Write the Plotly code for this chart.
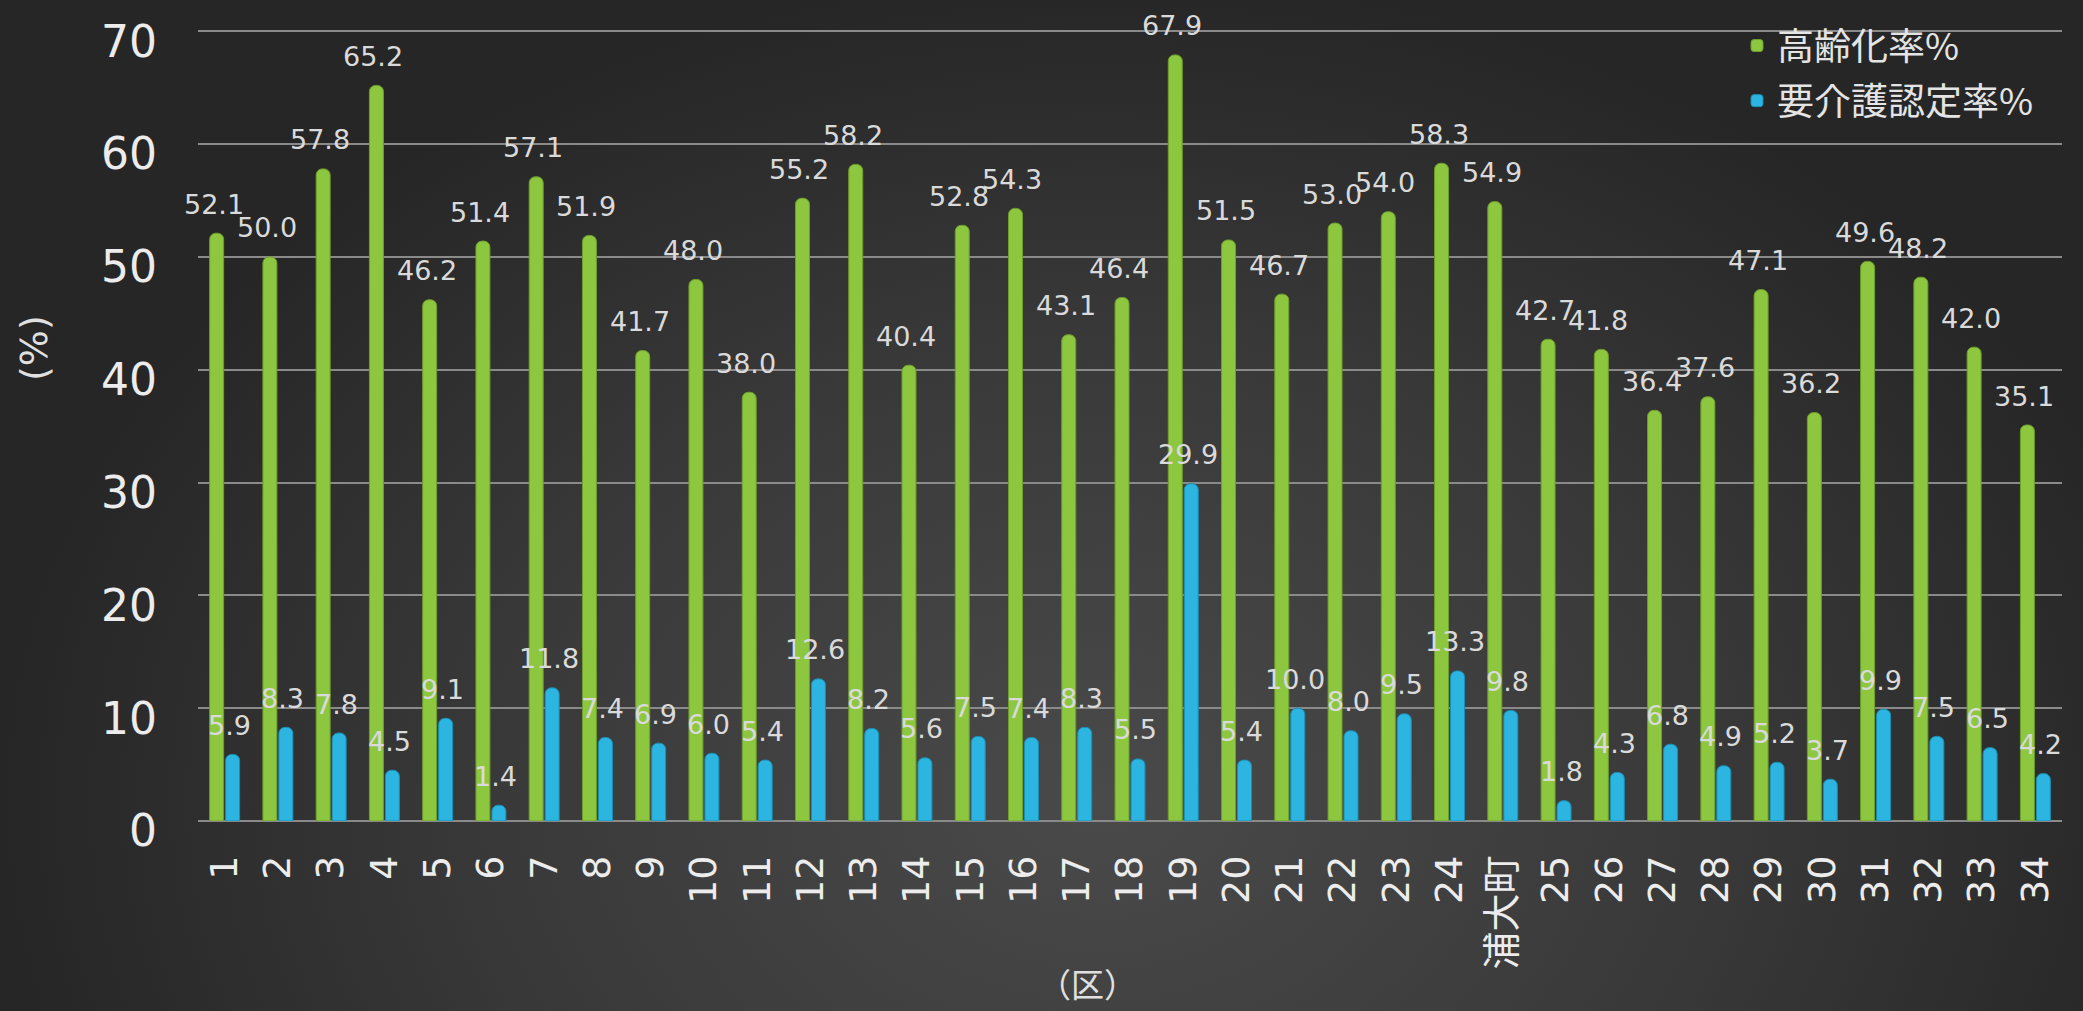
import base64
import plotly.graph_objects as go

# District labels along the x axis
districts = [
    "1", "2", "3", "4", "5", "6", "7", "8", "9", "10",
    "11", "12", "13", "14", "15", "16", "17", "18", "19", "20",
    "21", "22", "23", "24", "浦大町", "25", "26", "27", "28", "29",
    "30", "31", "32", "33", "34",
]

# 高齢化率 (%) per district
aging_rate = [
    52.1, 50.0, 57.8, 65.2, 46.2, 51.4, 57.1, 51.9, 41.7, 48.0,
    38.0, 55.2, 58.2, 40.4, 52.8, 54.3, 43.1, 46.4, 67.9, 51.5,
    46.7, 53.0, 54.0, 58.3, 54.9, 42.7, 41.8, 36.4, 37.6, 47.1,
    36.2, 49.6, 48.2, 42.0, 35.1,
]

# 要介護認定率 (%) per district
care_rate = [
    5.9, 8.3, 7.8, 4.5, 9.1, 1.4, 11.8, 7.4, 6.9, 6.0,
    5.4, 12.6, 8.2, 5.6, 7.5, 7.4, 8.3, 5.5, 29.9, 5.4,
    10.0, 8.0, 9.5, 13.3, 9.8, 1.8, 4.3, 6.8, 4.9, 5.2,
    3.7, 9.9, 7.5, 6.5, 4.2,
]

y_ticks = [0, 10, 20, 30, 40, 50, 60, 70]

W, H = 2083, 1011
M_L, M_R, M_T, M_B = 198, 21, 29, 190
plot_w = W - M_L - M_R
plot_h = H - M_T - M_B

GREEN = "#8dc73f"
GREEN_EDGE = "#6e9e2a"
BLUE = "#2bb5e0"
BLUE_EDGE = "#1a8fb5"
LABEL_FONT = "DejaVu Sans, Noto Sans CJK JP"

fig = go.Figure()
fig.add_trace(go.Bar(
    name="高齢化率%", x=districts, y=aging_rate,
    marker=dict(color=GREEN, line=dict(color=GREEN_EDGE, width=1), cornerradius=6),
    legendgroup="g1",
))
fig.add_trace(go.Bar(
    name="要介護認定率%", x=districts, y=care_rate,
    marker=dict(color=BLUE, line=dict(color=BLUE_EDGE, width=1), cornerradius=6),
    legendgroup="g2",
))

# Value labels floating above each bar (category axis -> index positions)
annotations = []
for series, shift in ((aging_rate, -8), (care_rate, 8)):
    for idx, val in enumerate(series):
        annotations.append(dict(
            x=idx, y=val, xref="x", yref="y", text=f"{val:.1f}",
            showarrow=False, xshift=shift - 3, yshift=29,
            xanchor="center", yanchor="middle",
            font=dict(family=LABEL_FONT, size=27, color="#dadada"),
        ))

annotations.append(dict(
    text="(%)", xref="paper", yref="paper",
    x=(34 - M_L) / plot_w, y=(H - M_B - 348) / plot_h,
    xanchor="center", yanchor="middle",
    showarrow=False, textangle=-90,
    font=dict(family=LABEL_FONT, size=38, color="#e0e0e0"),
))
annotations.append(dict(
    text="（区）", xref="paper", yref="paper",
    x=(1087 - M_L) / plot_w, y=-(983 - (H - M_B)) / plot_h,
    xanchor="center", yanchor="middle",
    showarrow=False,
    font=dict(family="Noto Sans CJK JP", size=33, color="#e0e0e0"),
))

# Dark radial backdrop behind the whole figure
svg = f"""<svg xmlns='http://www.w3.org/2000/svg' width='{W}' height='{H}' viewBox='0 0 {W} {H}'>
<defs><radialGradient id='g' cx='1100' cy='800' r='1100' gradientUnits='userSpaceOnUse'
 gradientTransform='translate(1100 800) scale(1 0.75) translate(-1100 -800)'>
<stop offset='0' stop-color='#4a4a4a'/><stop offset='0.55' stop-color='#393939'/>
<stop offset='1' stop-color='#262626'/></radialGradient></defs>
<rect width='{W}' height='{H}' fill='url(#g)'/></svg>"""
bg_src = "data:image/svg+xml;base64," + base64.b64encode(svg.encode()).decode()

fig.update_layout(
    width=W, height=H,
    margin=dict(l=M_L, r=M_R, t=M_T, b=M_B),
    paper_bgcolor="#333333",
    plot_bgcolor="rgba(0,0,0,0)",
    barmode="group", bargap=0.4, bargroupgap=0.125,
    showlegend=True,
    legend=dict(
        x=(1737 - M_L) / plot_w, y=1 + 14 / plot_h,
        xanchor="left", yanchor="top",
        bgcolor="rgba(0,0,0,0)", tracegroupgap=4,
        font=dict(family="Noto Sans CJK JP", size=37, color="#e4e4e4"),
    ),
    annotations=annotations,
    images=[dict(
        source=bg_src, xref="paper", yref="paper",
        x=-M_L / plot_w, y=1 + M_T / plot_h,
        sizex=W / plot_w, sizey=H / plot_h,
        sizing="stretch", layer="below", xanchor="left", yanchor="top",
    )],
    xaxis=dict(
        type="category", tickangle=-90, showgrid=False, zeroline=False,
        showline=False, ticks="", ticklabelstandoff=26,
        range=[-0.5, len(districts) - 0.5],
        tickfont=dict(family=LABEL_FONT, size=38, color="#ececec"),
    ),
    yaxis=dict(
        range=[0, 70.2], tickvals=y_ticks, showgrid=True,
        gridcolor="#8a8a8a", gridwidth=2, zeroline=True,
        zerolinecolor="#8a8a8a", zerolinewidth=2, showline=False,
        ticks="", ticklabelstandoff=40, ticklabelshift=10,
        tickfont=dict(family=LABEL_FONT, size=44, color="#ececec"),
    ),
)

fig.write_html("out.html")
